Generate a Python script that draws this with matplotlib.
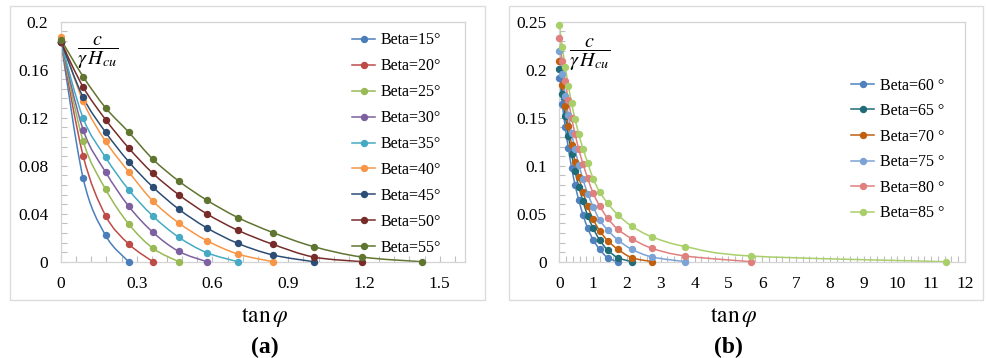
import numpy as np
import matplotlib
matplotlib.use("Agg")
from matplotlib import pyplot as plt
from matplotlib.path import Path
from matplotlib.patches import PathPatch, Rectangle
from matplotlib.lines import Line2D
from matplotlib.ticker import MultipleLocator

plt.rcParams['font.family'] = ['Liberation Serif', 'DejaVu Serif']
plt.rcParams['mathtext.fontset'] = 'stix'

W, H = 987, 358

# tan(phi) for phi = 0, 5, 10, ... 85 deg
tan_phi = [0, 0.0875, 0.1763, 0.2679, 0.3640, 0.4663, 0.5774, 0.7002, 0.8391, 1.0,
           1.1918, 1.4281, 1.7321, 2.1445, 2.7475, 3.7321, 5.6713, 11.4301]

# panel (a)
labels_a = ['Beta=15°', 'Beta=20°', 'Beta=25°', 'Beta=30°', 'Beta=35°',
            'Beta=40°', 'Beta=45°', 'Beta=50°', 'Beta=55°']
colors_a = ['#4a7ebb', '#be4b48', '#98b954', '#7d60a0', '#46aac5',
            '#f79646', '#2c4d75', '#772c2a', '#5f7530']
beta15 = [0.183, 0.0697, 0.022, 0]
beta20 = [0.183, 0.0884, 0.0385, 0.0148, 0]
beta25 = [0.183, 0.1007, 0.0605, 0.0315, 0.0112, 0]
beta30 = [0.183, 0.110, 0.0748, 0.0463, 0.0245, 0.0086, 0]
beta35 = [0.183, 0.1197, 0.087, 0.060, 0.038, 0.0204, 0.0075, 0]
beta40 = [0.187, 0.1336, 0.1004, 0.075, 0.0505, 0.0323, 0.0176, 0.0064, 0]
beta45 = [0.183, 0.137, 0.108, 0.0834, 0.0622, 0.0438, 0.0282, 0.0153, 0.0056, 0]
beta50 = [0.183, 0.1456, 0.1185, 0.0948, 0.0736, 0.0558, 0.0399, 0.0262, 0.0145, 0.0039, 0]
beta55 = [0.185, 0.1543, 0.1283, 0.108, 0.0854, 0.0672, 0.0513, 0.0368, 0.0243, 0.0126,
          0.0039, 0]
series_a = [beta15, beta20, beta25, beta30, beta35, beta40, beta45, beta50, beta55]

# panel (b)
labels_b = ['Beta=60 °', 'Beta=65 °', 'Beta=70 °', 'Beta=75 °', 'Beta=80 °', 'Beta=85 °']
colors_b = ['#4f81bd', '#1f6b78', '#c0600f', '#7ba3d6', '#e0807e', '#a9cf6a']
beta60 = [0.191, 0.164, 0.140, 0.118, 0.098, 0.080, 0.064, 0.049, 0.035, 0.023, 0.0129,
          0.0042, 0]
beta65 = [0.2005, 0.175, 0.152, 0.131, 0.112, 0.094, 0.078, 0.063, 0.048, 0.035, 0.0227,
          0.0122, 0.0042, 0]
beta70 = [0.209, 0.184, 0.162, 0.141, 0.122, 0.104, 0.088, 0.073, 0.058, 0.0443, 0.0324,
          0.022, 0.0129, 0.0042, 0]
beta75 = [0.2197, 0.195, 0.173, 0.153, 0.134, 0.117, 0.101, 0.086, 0.071, 0.0575, 0.0436,
          0.033, 0.0227, 0.0129, 0.0049, 0]
beta80 = [0.2326, 0.209, 0.188, 0.168, 0.150, 0.133, 0.117, 0.102, 0.087, 0.0715, 0.0582,
          0.0453, 0.0338, 0.024, 0.0139, 0.0059, 0]
beta85 = [0.2469, 0.2238, 0.2029, 0.1834, 0.165, 0.1485, 0.1328, 0.1178, 0.1032, 0.0865,
          0.0729, 0.061, 0.0488, 0.037, 0.0258, 0.0157, 0.0059, 0]
series_b = [beta60, beta65, beta70, beta75, beta80, beta85]

LW = 1.1
MS = 4.3
GRID_C = '#d4d4d4'
TICK_C = '#bfbfbf'


def smooth_path(x, y):
    # excel-like smoothed line (catmull-rom as cubic bezier)
    pts = np.column_stack([x, y])
    n = len(pts)
    verts = [pts[0]]
    codes = [Path.MOVETO]
    for i in range(n - 1):
        p0 = pts[max(i - 1, 0)]
        p1 = pts[i]
        p2 = pts[i + 1]
        p3 = pts[min(i + 2, n - 1)]
        verts += [p1 + (p2 - p0) / 6, p2 - (p3 - p1) / 6, p2]
        codes += [Path.CURVE4] * 3
    return Path(verts, codes)


def px_rect(l, t, r, b):
    return [l / W, 1 - b / H, (r - l) / W, (b - t) / H]


def setup(ax, xmax, xmajor, xminor, ymax, ymajor, yminor, frac_xy):
    ax.set_xlim(0, xmax)
    ax.set_ylim(0, ymax)
    ax.xaxis.set_major_locator(MultipleLocator(xmajor))
    ax.xaxis.set_minor_locator(MultipleLocator(xminor))
    ax.yaxis.set_major_locator(MultipleLocator(ymajor))
    ax.yaxis.set_minor_locator(MultipleLocator(yminor))
    ax.xaxis.set_major_formatter(lambda v, p: f'{v:g}')
    ax.yaxis.set_major_formatter(lambda v, p: f'{v:g}')
    for s in ax.spines.values():
        s.set_color(GRID_C)
        s.set_linewidth(0.9)
    ax.tick_params(which='both', direction='in', color=TICK_C, width=0.8, length=4,
                   labelsize=12.5, labelcolor='black')
    ax.tick_params(axis='x', which='major', pad=10)
    ax.tick_params(axis='y', which='major', pad=9)
    fig.text(frac_xy[0] / W, 1 - frac_xy[1] / H, r'$\dfrac{c}{\gamma\, H_{cu}}$',
             fontsize=14.5, ha='center', va='center')


def draw(ax, series, colors, labels):
    handles = []
    for y, c, lab in zip(series, colors, labels):
        x = tan_phi[:len(y)]
        ax.add_patch(PathPatch(smooth_path(x, y), fill=False, edgecolor=c, lw=LW, zorder=2))
        ax.plot(x, y, ls='none', marker='o', ms=MS, color=c, zorder=3, clip_on=False)
        handles.append(Line2D([], [], color=c, lw=LW, marker='o', ms=MS, label=lab))
    return handles


fig = plt.figure(figsize=(W / 100, H / 100), dpi=100)

# outer chart borders
for l, r in [(10, 485), (509, 983)]:
    fig.add_artist(Rectangle((l / W, 1 - 300 / H), (r - l) / W, 294 / H, transform=fig.transFigure,
                             fill=False, edgecolor='#dcdcdc', lw=1.0))

ax_a = fig.add_axes(px_rect(61, 21.7, 465, 261.7))
setup(ax_a, 1.6, 0.3, 0.06, 0.2, 0.04, 0.008, (98, 53))
h_a = draw(ax_a, series_a, colors_a, labels_a)
ax_a.legend(handles=h_a, loc='upper left', bbox_to_anchor=(352 / W, 1 - 32.5 / H),
            bbox_transform=fig.transFigure, frameon=False, fontsize=11.5, borderpad=0,
            borderaxespad=0, handlelength=1.45, handletextpad=0.35, labelspacing=0.62)

ax_b = fig.add_axes(px_rect(559.3, 21.7, 965, 261.7))
setup(ax_b, 12, 1, 0.2, 0.25, 0.05, 0.01, (590, 55))
h_b = draw(ax_b, series_b, colors_b, labels_b)
ax_b.legend(handles=h_b, loc='upper left', bbox_to_anchor=(851 / W, 1 - 77.5 / H),
            bbox_transform=fig.transFigure, frameon=False, fontsize=11.5, borderpad=0,
            borderaxespad=0, handlelength=1.45, handletextpad=0.35, labelspacing=0.6)

for xc, xl, lab in [(265, 265, '(a)'), (734, 728, '(b)')]:
    fig.text(xc / W, 1 - 317 / H, r'$\mathrm{tan}\,\varphi$', fontsize=17, ha='center', va='center')
    fig.text(xl / W, 1 - 347 / H, lab, fontsize=17, fontweight='bold', ha='center', va='center')

fig.savefig('out.png', dpi=100)
